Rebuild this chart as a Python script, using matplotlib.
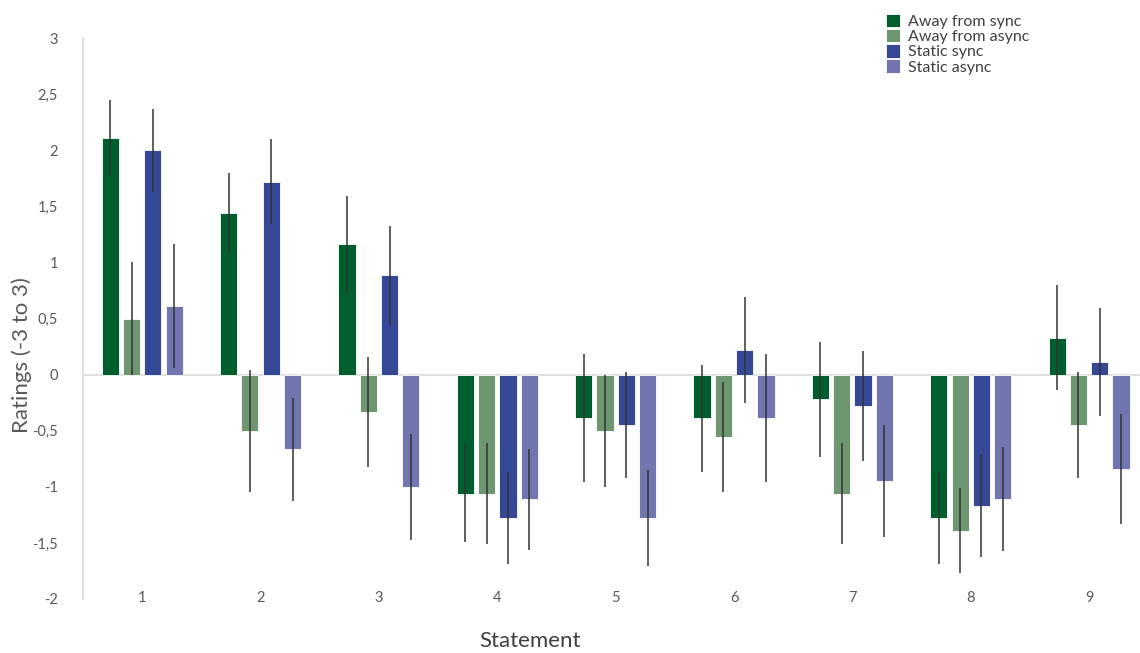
import matplotlib.pyplot as plt
import numpy as np

plt.rcParams['font.family'] = ['Lato', 'DejaVu Sans']

statements = ["1", "2", "3", "4", "5", "6", "7", "8", "9"]
series = ["Away from sync", "Away from async", "Static sync", "Static async"]
colors = ["#005E2E", "#6E9670", "#344896", "#7276B0"]

away_sync = [2.11, 1.44, 1.16, -1.06, -0.39, -0.39, -0.22, -1.28, 0.33]
away_async = [0.50, -0.50, -0.335, -1.06, -0.50, -0.56, -1.06, -1.39, -0.45]
static_sync = [2.0, 1.72, 0.885, -1.28, -0.45, 0.22, -0.28, -1.17, 0.11]
static_async = [0.61, -0.665, -1.0, -1.11, -1.28, -0.39, -0.95, -1.11, -0.84]

err_away_sync = [0.34, 0.36, 0.43, 0.43, 0.57, 0.48, 0.51, 0.41, 0.465]
err_away_async = [0.50, 0.545, 0.49, 0.45, 0.50, 0.49, 0.45, 0.375, 0.47]
err_static_sync = [0.37, 0.38, 0.44, 0.41, 0.47, 0.47, 0.49, 0.46, 0.48]
err_static_async = [0.55, 0.46, 0.475, 0.45, 0.43, 0.57, 0.50, 0.465, 0.49]

values = [away_sync, away_async, static_sync, static_async]
errors = [err_away_sync, err_away_async, err_static_sync, err_static_async]

fig = plt.figure(figsize=(11.4, 6.53), dpi=100)
ax = fig.add_axes([83 / 1140, 1 - 599 / 653, 1 - 83 / 1140, (599 - 38) / 653])

x = np.arange(1, len(statements) + 1)
offsets = [-0.27, -0.09, 0.09, 0.27]
for vals, errs, col, lab, off in zip(values, errors, colors, series, offsets):
    ax.bar(x + off, vals, width=0.145, color=col, label=lab,
           edgecolor="white", linewidth=0.6, zorder=2)
    ax.errorbar(x + off, vals, yerr=errs, fmt="none", ecolor="#333333",
                elinewidth=1.1, capsize=0, zorder=3)

ax.axhline(0, color="#D9D9D9", linewidth=1.2, zorder=1)
ax.set_xlim(0.5, 9.43)
ax.set_ylim(-2, 3)
yt = np.arange(-2, 3.01, 0.5)
ax.set_yticks(yt)
ax.set_yticklabels([("%g" % v).replace(".", ",") for v in yt])
ax.set_xticks(x)
ax.set_xticklabels(statements)
ax.tick_params(axis="y", length=0, pad=18, labelsize=10.5, labelcolor="#595959")
ax.tick_params(axis="x", length=0, pad=-6, labelsize=10.5, labelcolor="#595959")
for s in ["top", "right", "bottom"]:
    ax.spines[s].set_visible(False)
ax.spines["left"].set_color("#D9D9D9")
ax.spines["left"].set_linewidth(1.2)

fig.text(22 / 1140, 1 - 355 / 653, "Ratings (-3 to 3)", rotation=90,
         ha="center", va="center", fontsize=16, color="#595959")
fig.text(530 / 1140, 1 - 641 / 653, "Statement", ha="center", va="center",
         fontsize=16, color="#404040")

fig.legend(loc="upper left", bbox_to_anchor=(878 / 1140, 1 - 6 / 653),
           frameon=False, fontsize=11.5, handlelength=0.9, handleheight=0.9,
           handletextpad=0.45, labelspacing=0.0, borderpad=0, labelcolor="#404040")

fig.savefig("out.png", dpi=100)
